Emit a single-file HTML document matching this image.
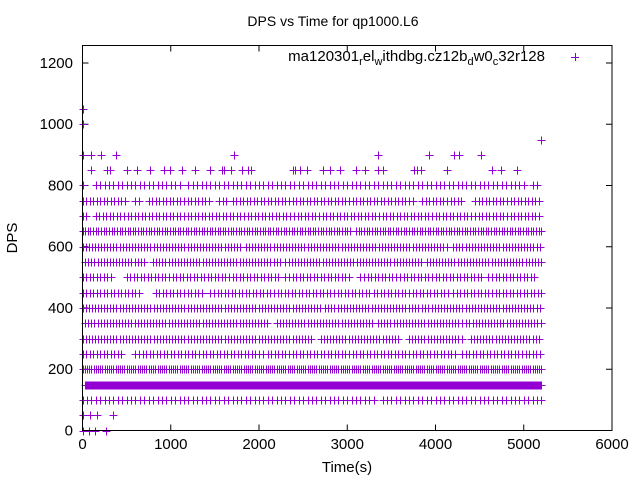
<!DOCTYPE html>
<html><head><meta charset="utf-8"><style>
html,body{margin:0;padding:0;background:#fff;}
svg{display:block;font-family:"Liberation Sans",sans-serif;}
</style></head><body>
<svg id="chart" width="640" height="480" viewBox="0 0 640 480" xmlns="http://www.w3.org/2000/svg">
<rect width="640" height="480" fill="#fff"/>
<text x="333" y="26" text-anchor="middle" font-size="14">DPS vs Time for qp1000.L6</text>
<text transform="translate(17,238) rotate(-90)" text-anchor="middle" font-size="15">DPS</text>
<text x="347" y="472" text-anchor="middle" font-size="15">Time(s)</text>
<g id="axes"></g>
<g id="points"></g>
<g>
<text x="545" y="61" text-anchor="end" font-size="15">ma120301<tspan dy="4" font-size="11">r</tspan><tspan dy="-4">el</tspan><tspan dy="4" font-size="11">w</tspan><tspan dy="-4">ithdbg.cz12b</tspan><tspan dy="4" font-size="11">d</tspan><tspan dy="-4">w0</tspan><tspan dy="4" font-size="11">c</tspan><tspan dy="-4">32r128</tspan></text>
<path d="M571,57.5h8M575.5,53v8" stroke="#9400d3" stroke-width="1" shape-rendering="crispEdges"/>
</g>
<rect x="82.5" y="45.5" width="529.5" height="385" fill="none" stroke="#000" stroke-width="1"/>
</svg>
<script>
const xTicks=[0,1000,2000,3000,4000,5000,6000];
const yTicks=[0,200,400,600,800,1000,1200];
// dense rows: level and [start,end] segments in seconds, with sampling interval
const denseLevels=[100,150,200,250,300,350,400,450,500,550,600,650,700,750,800];
const denseSteps=[50,10,25,40,35,35,35,40,40,35,35,30,40,40,50];
const denseSegments=[
 [[0,1500],[1550,3300],[3400,4950],[5000,5200]],
 [[30,5200]],
 [[0,5200]],
 [[0,450],[600,2050],[2100,4250],[4300,5200]],
 [[0,2600],[2700,3600],[3700,4300],[4400,5200]],
 [[30,2100],[2200,3300],[3350,4300],[4350,5200]],
 [[0,2700],[2750,3800],[3850,5200]],
 [[0,650],[830,1350],[1450,3250],[3300,4150],[4200,5200]],
 [[0,350],[500,2250],[2300,3050],[3150,3550],[3600,4550],[4600,5150]],
 [[30,700],[800,2250],[2300,3850],[3900,5200]],
 [[0,1800],[1850,4150],[4200,5200]],
 [[0,3050],[3100,5200]],
 [[0,40],[150,2350],[2400,4400],[4450,5200]],
 [[0,500],[600,650],[750,1450],[1550,1650],[1700,3750],[3850,4300],[4450,5200]],
 [[0,40],[150,1100],[1200,2750],[2800,4400],[4450,5000],[5100,5150]]
];
const sparseLevels=[0,50,850,900,950,1000,1050];
const sparseTimes=[
 [10,70,140,270],
 [10,90,160,350],
 [91,283,306,509,623,770,928,996,1132,1279,1449,1585,1608,1687,1812,1880,1914,2389,2411,2468,2547,2728,2808,2921,3102,3204,3351,3408,3759,3793,3838,4132,4642,4744,4925],
 [10,100,215,375,1720,3350,3930,4210,4270,4520],
 [5190],
 [0],
 [0]
];
const X0=82.5,X1=612,Y0=430.5,Y1=45.5,XMAX=6000,YMAX=1257;
function xs(t){return X0+(X1-X0)*t/XMAX;}
function ys(v){return Y0-(Y0-Y1)*v/YMAX;}
const NS="http://www.w3.org/2000/svg";
const ax=document.getElementById('axes');
let tp="";
xTicks.forEach(t=>{const x=xs(t);tp+=`M${x},${Y0}v-6M${x},${Y1}v6`;
 const tx=document.createElementNS(NS,'text');
 
 
 tx.setAttribute('x',x);tx.setAttribute('y',449);tx.setAttribute('text-anchor','middle');tx.setAttribute('font-size','15');
 tx.textContent=t;ax.appendChild(tx);});
yTicks.forEach(v=>{const y=ys(v);tp+=`M${X0},${y}h6M${X1},${y}h-6`;
 const tx=document.createElementNS(NS,'text');
 
 
 tx.setAttribute('x',73);tx.setAttribute('y',y+5);tx.setAttribute('text-anchor','end');tx.setAttribute('font-size','15');
 tx.textContent=v;ax.appendChild(tx);});
const tk=document.createElementNS(NS,'path');


tk.setAttribute('d',tp);tk.setAttribute('stroke','#000');tk.setAttribute('fill','none');ax.appendChild(tk);
let d="";
function plus(t,v){const x=Math.round(xs(t))+0.5,y=Math.round(ys(v))+0.5;d+=`M${x-4},${y}h8M${x},${y-4}v8`;}
denseLevels.forEach((lv,i)=>{denseSegments[i].forEach(s=>{for(let t=s[0];t<=s[1];t+=denseSteps[i])plus(t,lv);});});
sparseLevels.forEach((lv,i)=>{sparseTimes[i].forEach(t=>plus(t,lv));});
const p=document.createElementNS(NS,'path');


p.setAttribute('d',d);p.setAttribute('stroke','#9400d3');p.setAttribute('stroke-width','1');p.setAttribute('fill','none');p.setAttribute('shape-rendering','crispEdges');
document.getElementById('points').appendChild(p);
</script>
</body></html>
